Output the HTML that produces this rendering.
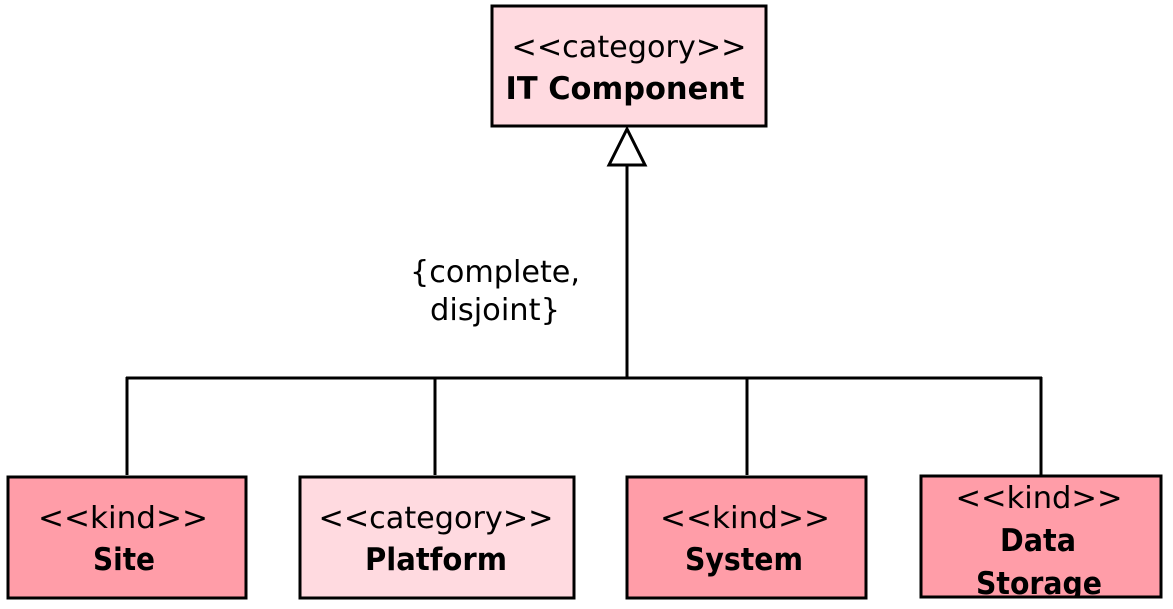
<!DOCTYPE html>
<html><head><meta charset="utf-8"><style>
html,body{margin:0;padding:0;background:#fff;}
svg{display:block;}
text{font-family:"DejaVu Sans","Liberation Sans",sans-serif;fill:#000;}
.s{font-size:30px;}
.b{font-size:31px;font-weight:bold;}
</style></head><body>
<svg width="1173" height="609" viewBox="0 0 1173 609" xmlns="http://www.w3.org/2000/svg">
<defs><clipPath id="c"><rect x="921" y="476" width="240" height="121"/></clipPath></defs>
<rect x="492" y="6" width="274" height="120" fill="#FFDAE0" stroke="#000" stroke-width="3"/>
<text class="s" x="629" y="57" text-anchor="middle" textLength="235" lengthAdjust="spacingAndGlyphs">&lt;&lt;category&gt;&gt;</text>
<text class="b" x="625" y="99" text-anchor="middle" textLength="239" lengthAdjust="spacingAndGlyphs">IT Component</text>
<polygon points="627,129 609,165 645,165" fill="#fff" stroke="#000" stroke-width="3"/>
<g stroke="#000" stroke-width="3" fill="none">
<line x1="627" y1="165" x2="627" y2="378"/>
<line x1="126" y1="378" x2="1042" y2="378"/>
<line x1="127" y1="377" x2="127" y2="475"/>
<line x1="435" y1="377" x2="435" y2="475"/>
<line x1="747" y1="377" x2="747" y2="475"/>
<line x1="1041" y1="377" x2="1041" y2="475"/>
</g>
<text class="s" x="495" y="282" text-anchor="middle" textLength="170" lengthAdjust="spacingAndGlyphs">{complete,</text>
<text class="s" x="495" y="320" text-anchor="middle" textLength="130" lengthAdjust="spacingAndGlyphs">disjoint}</text>

<rect x="8" y="477" width="238" height="121" fill="#FF9DA8" stroke="#000" stroke-width="3"/>
<text class="s" x="123" y="528" text-anchor="middle" textLength="170" lengthAdjust="spacingAndGlyphs">&lt;&lt;kind&gt;&gt;</text>
<text class="b" x="124" y="570" text-anchor="middle" textLength="62" lengthAdjust="spacingAndGlyphs">Site</text>

<rect x="300" y="477" width="274" height="121" fill="#FFDAE0" stroke="#000" stroke-width="3"/>
<text class="s" x="436" y="528" text-anchor="middle" textLength="235" lengthAdjust="spacingAndGlyphs">&lt;&lt;category&gt;&gt;</text>
<text class="b" x="436" y="570" text-anchor="middle" textLength="142" lengthAdjust="spacingAndGlyphs">Platform</text>

<rect x="627" y="477" width="239" height="121" fill="#FF9DA8" stroke="#000" stroke-width="3"/>
<text class="s" x="745" y="528" text-anchor="middle" textLength="170" lengthAdjust="spacingAndGlyphs">&lt;&lt;kind&gt;&gt;</text>
<text class="b" x="744" y="570" text-anchor="middle" textLength="118" lengthAdjust="spacingAndGlyphs">System</text>

<rect x="921" y="476" width="240" height="121" fill="#FF9DA8" stroke="#000" stroke-width="3"/>
<g clip-path="url(#c)">
<text class="s" x="1039" y="508" text-anchor="middle" textLength="167" lengthAdjust="spacingAndGlyphs">&lt;&lt;kind&gt;&gt;</text>
<text class="b" x="1038" y="551" text-anchor="middle" textLength="76" lengthAdjust="spacingAndGlyphs">Data</text>
<text class="b" x="1039" y="594" text-anchor="middle" textLength="126" lengthAdjust="spacingAndGlyphs">Storage</text>
</g>
<rect x="921" y="476" width="240" height="121" fill="none" stroke="#000" stroke-width="3"/>
</svg>
</body></html>
